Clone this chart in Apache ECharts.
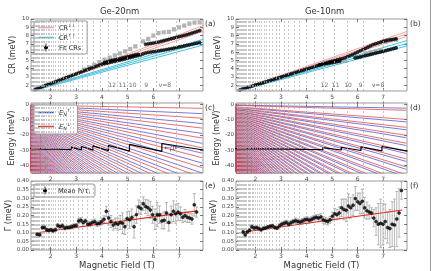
<!DOCTYPE html>
<html>
<head>
<meta charset="utf-8">
<script src="https://cdn.jsdelivr.net/npm/echarts@6/dist/echarts.min.js"></script>
<style>html,body{margin:0;padding:0;background:#fff}#main{width:431px;height:271px}</style>
</head>
<body>
<div id="main"></div>
<script>
var FONT = 'DejaVu Sans'
var X_MIN = 1.24, X_MAX = 7.93
var bTicks = [2, 3, 4, 5, 6, 7]
var crTicks = [2, 3, 4, 5, 6, 7, 8, 9, 10]
var energyTicks = [0, -10, -20, -30, -40]
var gammaTicks = [0, 0.05, 0.1, 0.15, 0.2, 0.25, 0.3, 0.35, 0.4]

// filling factor positions (T), dashed verticals
var nuB20 = [6.88, 6.11, 5.50, 5.00, 4.58, 4.23, 3.93, 3.67, 3.44, 3.24, 3.06, 2.89, 2.75, 2.62, 2.50, 2.39, 2.29, 2.20, 2.12, 2.04, 1.96, 1.90, 1.83, 1.77, 1.72, 1.67, 1.62, 1.57, 1.53, 1.49, 1.45, 1.41, 1.38, 1.34, 1.31, 1.28, 1.25]
var nuB10 = [7.00, 6.22, 5.60, 5.09, 4.67, 4.31, 4.00, 3.73, 3.50, 3.29, 3.11, 2.95, 2.80, 2.67, 2.55, 2.43, 2.33, 2.24, 2.15, 2.07, 2.00, 1.93, 1.87, 1.81, 1.75, 1.70, 1.65, 1.60, 1.56, 1.51, 1.47, 1.44, 1.40, 1.37, 1.33, 1.30, 1.27]
var nuNames = ['12', '11', '10', '9', 'ν=8']
var nuTextB20 = [4.40, 4.80, 5.20, 5.72, 6.45]
var nuTextB10 = [4.70, 5.14, 5.62, 6.12, 6.80]

// (a) Ge-20nm cyclotron resonance
var crDownStart20 = [1.42, 1.39, 1.36], crDownEnd20 = [9.2, 8.85, 8.5]
var crUpStart20 = [1.38, 1.35, 1.32], crUpEnd20 = [7.55, 7.2, 6.85]
var fitLow20 = [[1.40,1.50],[1.50,1.62],[1.60,1.73],[1.70,1.85],[1.80,1.97],[1.90,2.09],[2.00,2.20],[2.10,2.32],[2.20,2.44],[2.30,2.56],[2.40,2.68],[2.50,2.80],[2.60,2.91],[2.70,3.03],[2.80,3.15],[2.90,3.27],[3.00,3.38],[3.10,3.50],[3.20,3.62],[3.30,3.74],[3.40,3.85],[3.50,3.97],[3.60,4.09],[3.70,4.20],[3.80,4.32],[3.90,4.43],[4.00,4.55],[4.10,4.62],[4.20,4.68],[4.30,4.75],[4.40,4.82],[4.50,4.88],[4.60,4.95],[4.70,5.02],[4.80,5.10],[4.90,5.18],[5.00,5.26],[5.10,5.34],[5.20,5.42],[5.30,5.50],[5.40,5.58],[5.50,5.66],[5.60,5.78],[5.70,5.88],[5.80,5.95],[5.90,6.00],[6.00,6.05],[6.10,6.10],[6.20,6.15],[6.30,6.20],[6.40,6.25],[6.50,6.30],[6.60,6.36],[6.70,6.42],[6.80,6.48],[6.90,6.55],[7.00,6.62],[7.10,6.68],[7.20,6.75],[7.30,6.82],[7.40,6.88],[7.50,6.95],[7.60,7.02],[7.70,7.08],[7.80,7.15]]
var fitHigh20 = [[4.10,4.75],[4.20,4.85],[4.30,4.95],[4.40,5.02],[4.50,5.08],[4.60,5.14],[4.70,5.22],[4.80,5.30],[4.90,5.38],[5.00,5.45],[5.10,5.52],[5.20,5.60],[5.30,5.66],[5.40,5.72],[5.70,6.95],[5.80,7.00],[5.90,7.05],[6.00,7.10],[6.10,7.16],[6.20,7.22],[6.30,7.30],[6.40,7.38],[6.50,7.46],[6.60,7.54],[6.70,7.62],[6.80,7.70],[6.90,7.78],[7.00,7.86],[7.10,7.94],[7.20,8.02],[7.30,8.10],[7.40,8.20],[7.50,8.30],[7.60,8.40],[7.70,8.50],[7.80,8.60]]
var hollow20 = [[3.3,3.9],[3.5,4.15],[3.7,4.45],[3.9,4.8],[4.1,5.1],[4.3,5.35],[4.5,5.6],[4.7,5.85],[4.9,6.1],[5.1,6.35],[5.3,6.7],[5.6,7.3],[5.8,7.6],[6.0,8.0],[6.2,8.3],[6.4,8.4],[6.6,8.45],[6.8,8.75],[7.0,9.0],[7.2,9.2],[7.4,9.45],[7.6,9.55],[7.8,9.6]]

// (b) Ge-10nm cyclotron resonance
var crDownStart10 = [1.36, 1.33, 1.30], crDownEnd10 = [8.5, 8.2, 7.9]
var crUpStart10 = [1.34, 1.31, 1.28], crUpEnd10 = [7.4, 7.05, 6.75]
var fitMain10 = [[1.40,1.45],[1.50,1.55],[1.60,1.64],[1.70,1.74],[1.80,1.83],[1.90,1.93],[2.00,2.03],[2.10,2.12],[2.20,2.22],[2.30,2.31],[2.40,2.41],[2.50,2.51],[2.60,2.60],[2.70,2.70],[2.80,2.79],[2.90,2.89],[3.00,2.99],[3.10,3.08],[3.20,3.18],[3.30,3.27],[3.40,3.37],[3.50,3.47],[3.60,3.56],[3.70,3.66],[3.80,3.75],[3.90,3.85],[4.00,3.95],[4.10,4.04],[4.20,4.14],[4.30,4.23],[4.40,4.33],[4.50,4.43],[4.60,4.52],[4.70,4.62],[4.80,4.71],[4.90,4.81],[5.00,4.90],[5.10,4.98],[5.20,5.06],[5.30,5.14],[5.40,5.22],[5.50,5.32],[5.60,5.45],[5.70,5.58],[5.80,5.70],[5.90,5.85],[6.00,6.00],[6.10,6.15],[6.20,6.30],[6.30,6.45],[6.40,6.60],[6.50,6.75],[6.60,6.90],[6.70,7.00],[6.80,7.10],[6.90,7.20],[7.00,7.30],[7.10,7.38],[7.20,7.45],[7.30,7.50],[7.40,7.55],[7.50,7.60]]
var fitLow10 = [[4.50,4.45],[4.60,4.50],[4.70,4.56],[4.80,4.62],[4.90,4.68],[5.00,4.74],[5.10,4.80],[5.20,4.86],[5.30,4.92],[5.90,5.30],[6.00,5.36],[6.10,5.42],[6.20,5.50],[6.30,5.58],[6.40,5.65],[6.50,5.72],[6.60,5.80],[6.70,5.88],[6.80,5.95],[6.90,6.02],[7.00,6.10],[7.10,6.18],[7.20,6.26],[7.30,6.34],[7.40,6.42],[7.50,6.50]]
var hollow10 = [[4.7,4.72],[4.9,4.78],[5.1,4.84],[5.3,4.88],[5.5,4.95],[6.3,5.85],[6.5,5.98],[6.7,6.1],[6.9,6.22],[7.1,7.25],[7.3,7.4],[7.5,7.5]]

// (c),(d) Landau level energies at B = 7.9 T (fan from origin)
var FAN_B = 7.9
var eDown20 = [-2.5,-9,-15.5,-22,-28.5,-35,-41.5,-48,-54.5,-61,-67.5,-74,-80.5,-87,-93.5,-100,-106.5,-113,-119.5,-126,-132.5,-139,-145.5,-152,-158.5,-165,-171.5,-178,-184.5,-191,-197.5,-204,-210.5,-217,-223.5,-230,-236.5,-243,-249.5,-256,-262.5,-269,-275.5,-282]
var eUp20 = [-6,-12.5,-19,-25.5,-32,-38.5,-45,-51.5,-58,-64.5,-71,-77.5,-84,-90.5,-97,-103.5,-110,-116.5,-123,-129.5,-136,-142.5,-149,-155.5,-162,-168.5,-175,-181.5,-188,-194.5,-201,-207.5,-214,-220.5,-227,-233.5,-240,-246.5,-253,-259.5,-266,-272.5,-279]
var eDown10 = [-3.8,-9.8,-15,-20.2,-25.4,-30.6,-35.8,-41,-46.2,-51.4,-56.6,-61.8,-67,-72.2,-77.4,-82.6,-87.8,-93,-98.2,-103.4,-108.6,-113.8,-119,-124.2,-129.4,-134.6,-139.8,-145,-150.2,-155.4,-160.6,-165.8,-171,-176.2,-181.4,-186.6,-191.8,-197,-202.2,-207.4,-212.6,-217.8,-223,-228.2,-233.4,-238.6,-243.8,-249,-254.2,-259.4,-264.6,-269.8,-275,-280.2]
var eUp10 = [-2.4,-11.4,-16.6,-21.8,-27,-32.2,-37.4,-42.6,-47.8,-53,-58.2,-63.4,-68.6,-73.8,-79,-84.2,-89.4,-94.6,-99.8,-105,-110.2,-115.4,-120.6,-125.8,-131,-136.2,-141.4,-146.6,-151.8,-157,-162.2,-167.4,-172.6,-177.8,-183,-188.2,-193.4,-198.6,-203.8,-209,-214.2,-219.4,-224.6,-229.8,-235,-240.2,-245.4,-250.6,-255.8,-261,-266.2,-271.4,-276.6,-281.8]
var mu20 = [[1.2,-28.8],[1.8,-29.3],[1.8,-28.6],[2.3,-29.4],[2.3,-28.4],[2.8,-29.6],[2.8,-28.0],[3.2,-29.8],[3.2,-27.6],[3.65,-30.0],[3.65,-27.2],[4.25,-30.3],[4.25,-26.8],[5.07,-30.6],[5.07,-26.2],[6.33,-30.8],[6.33,-25.6],[7.95,-29.9]]
var mu10 = [[1.2,-29.0],[3.4,-29.3],[3.4,-28.8],[4.0,-29.5],[4.0,-28.5],[4.64,-29.7],[4.64,-28.3],[5.36,-29.9],[5.36,-28.1],[6.13,-30.2],[6.13,-27.8],[6.95,-30.5],[6.95,-27.6],[7.95,-30.6]]

// (e),(f) mean scattering rate
var gB20 = [1.48,1.58,1.68,1.76,1.85,1.93,2.02,2.10,2.19,2.28,2.37,2.46,2.55,2.64,2.73,2.82,2.91,3.00,3.09,3.18,3.27,3.36,3.45,3.54,3.63,3.72,3.81,3.90,3.99,4.08,4.17,4.26,4.35,4.44,4.53,4.62,4.71,4.80,4.89,4.98,5.07,5.16,5.25,5.34,5.43,5.52,5.61,5.70,5.79,5.88,5.97,6.06,6.15,6.24,6.33,6.42,6.51,6.60,6.69,6.78,6.87,6.96,7.05,7.14,7.23,7.32,7.41,7.50,7.59,7.68]
var gamma20 = [0.091,0.088,0.130,0.131,0.118,0.114,0.117,0.112,0.118,0.142,0.136,0.140,0.128,0.130,0.131,0.135,0.140,0.142,0.168,0.173,0.160,0.168,0.150,0.152,0.160,0.164,0.152,0.155,0.165,0.178,0.224,0.186,0.165,0.145,0.155,0.150,0.160,0.155,0.135,0.182,0.175,0.188,0.135,0.205,0.250,0.240,0.268,0.252,0.245,0.232,0.205,0.178,0.205,0.205,0.168,0.172,0.215,0.160,0.205,0.225,0.210,0.220,0.210,0.190,0.200,0.190,0.185,0.180,0.262,0.220]
var gErr20 = [0.008,0.008,0.01,0.01,0.008,0.01,0.01,0.01,0.01,0.012,0.01,0.012,0.012,0.01,0.01,0.012,0.012,0.012,0.015,0.015,0.015,0.012,0.015,0.015,0.015,0.015,0.015,0.015,0.02,0.02,0.03,0.04,0.035,0.03,0.03,0.035,0.04,0.06,0.045,0.04,0.05,0.05,0.065,0.05,0.04,0.035,0.04,0.04,0.045,0.05,0.05,0.06,0.07,0.05,0.045,0.05,0.06,0.05,0.05,0.06,0.055,0.05,0.04,0.03,0.035,0.03,0.025,0.03,0.065,0.03]
var gFit20 = [[1.48,0.100],[7.70,0.227]]
var gB10 = [1.52,1.60,1.68,1.77,1.86,1.95,2.04,2.13,2.22,2.31,2.40,2.49,2.58,2.67,2.76,2.85,2.94,3.03,3.12,3.21,3.30,3.39,3.48,3.57,3.66,3.75,3.84,3.93,4.02,4.11,4.20,4.29,4.38,4.47,4.56,4.65,4.74,4.83,4.92,5.01,5.10,5.19,5.28,5.37,5.46,5.55,5.64,5.73,5.82,5.91,6.00,6.09,6.18,6.27,6.36,6.45,6.54,6.63,6.72,6.81,6.90,6.99,7.08,7.17,7.26,7.35,7.44,7.53,7.62,7.71]
var gamma10 = [0.105,0.088,0.105,0.115,0.135,0.128,0.130,0.125,0.118,0.125,0.128,0.133,0.138,0.140,0.130,0.127,0.140,0.150,0.155,0.160,0.150,0.158,0.165,0.170,0.165,0.162,0.168,0.175,0.178,0.172,0.178,0.185,0.190,0.185,0.192,0.175,0.170,0.165,0.175,0.195,0.210,0.205,0.215,0.245,0.235,0.230,0.255,0.245,0.260,0.298,0.280,0.270,0.282,0.245,0.228,0.220,0.215,0.185,0.165,0.150,0.155,0.150,0.165,0.130,0.125,0.150,0.145,0.180,0.215,0.345]
var gErr10 = [0.012,0.01,0.01,0.01,0.01,0.01,0.01,0.01,0.01,0.01,0.01,0.01,0.01,0.01,0.01,0.01,0.012,0.012,0.012,0.012,0.012,0.012,0.012,0.015,0.015,0.015,0.015,0.015,0.015,0.015,0.015,0.015,0.015,0.02,0.02,0.02,0.02,0.02,0.02,0.025,0.03,0.03,0.035,0.05,0.06,0.065,0.07,0.06,0.06,0.07,0.05,0.06,0.07,0.06,0.05,0.04,0.03,0.05,0.08,0.12,0.14,0.12,0.1,0.09,0.11,0.13,0.15,0.16,0.14,0.05]
var gFit10 = [[1.50,0.103],[7.75,0.232]]

var grids = [
  { left: 31, top: 19, width: 172, height: 72 },
  { left: 236, top: 19, width: 171, height: 72 },
  { left: 31, top: 103, width: 172, height: 70 },
  { left: 236, top: 103, width: 171, height: 70 },
  { left: 31, top: 181, width: 172, height: 73 },
  { left: 236, top: 181, width: 171, height: 73 }
]

// legend icons: tiny corner dots keep the box so the stroke stays thin
var ICON_BOX = 'M0,0 L0.01,0 L0.01,0.01 Z M15.99,8.99 L16,8.99 L16,9 Z '
var LINE_ICON = 'path://' + ICON_BOX + 'M0,3.8 L16,3.8 L16,5.3 L0,5.3 Z'
var ERR_ICON = 'path://' + ICON_BOX + 'M7.6,0.5 L8.4,0.5 L8.4,8.5 L7.6,8.5 Z M10,4.5 A2,2 0 1 1 10,4.49 Z'
var PINK = '#f4a3a3', CYAN = '#3ec3e3', BLUE = '#4b4bd6', RED = '#e0403c'

var tickStyle = { color: '#555', width: 0.8 }
var xAxes = [], yAxes = [], series = []

function addAxes(gi, yMin, yMax, yTicks, yName, yFmt, xName) {
  xAxes.push({
    gridIndex: gi, type: 'value', min: X_MIN, max: X_MAX, position: 'bottom',
    axisLine: { show: false }, splitLine: { show: false },
    axisTick: { inside: true, length: 3, lineStyle: tickStyle, customValues: bTicks },
    axisLabel: { fontSize: 6, color: '#444', margin: 3, fontFamily: FONT, customValues: bTicks },
    name: xName || '', nameLocation: 'middle', nameGap: 11,
    nameTextStyle: { fontSize: 8.5, color: '#333', fontFamily: FONT }
  })
  xAxes.push({
    gridIndex: gi, type: 'value', min: X_MIN, max: X_MAX, position: 'top',
    axisLine: { show: false }, splitLine: { show: false }, axisLabel: { show: false },
    axisTick: { inside: true, length: 3, lineStyle: tickStyle, customValues: bTicks }
  })
  yAxes.push({
    gridIndex: gi, type: 'value', min: yMin, max: yMax, position: 'left',
    axisLine: { show: false }, splitLine: { show: false },
    axisTick: { inside: true, length: 3, lineStyle: tickStyle, customValues: yTicks },
    axisLabel: { fontSize: 5.5, color: '#444', margin: 2, fontFamily: FONT, customValues: yTicks, formatter: yFmt },
    name: yName, nameLocation: 'middle', nameGap: 14,
    nameTextStyle: { fontSize: 8, color: '#333', fontFamily: FONT }
  })
  yAxes.push({
    gridIndex: gi, type: 'value', min: yMin, max: yMax, position: 'right',
    axisLine: { show: false }, splitLine: { show: false }, axisLabel: { show: false },
    axisTick: { inside: true, length: 3, lineStyle: tickStyle, customValues: yTicks }
  })
}
function intFmt(v) { return String(Math.round(v)) }
function g2Fmt(v) { return v.toFixed(2) }

addAxes(0, 1.3, 10, crTicks, 'CR (meV)', intFmt)
addAxes(1, 1.3, 10, crTicks, 'CR (meV)', intFmt)
addAxes(2, -45, 1, energyTicks, 'Energy (meV)', intFmt)
addAxes(3, -45, 1, energyTicks, 'Energy (meV)', intFmt)
addAxes(4, 0, 0.4, gammaTicks, 'Γ (meV)', g2Fmt, 'Magnetic Field (T)')
addAxes(5, 0, 0.4, gammaTicks, 'Γ (meV)', g2Fmt, 'Magnetic Field (T)')

function ax(gi) { return { xAxisIndex: 2 * gi, yAxisIndex: 2 * gi } }

function nuLines(gi, arr) {
  series.push(Object.assign({
    type: 'line', data: [], silent: true, z: 1,
    markLine: {
      symbol: 'none', silent: true, animation: false, label: { show: false },
      lineStyle: { color: '#b0b0b0', type: [2, 2], width: 0.7 },
      data: arr.map(function (b) { return { xAxis: b } })
    }
  }, ax(gi)))
}

function segs(x0, x1, starts, ends) {
  var d = []
  for (var i = 0; i < ends.length; i++) {
    d.push([x0, starts[i]], [x1, ends[i]], [null, null])
  }
  return d
}
function fan(levels) {
  var d = []
  levels.forEach(function (e) { d.push([0, 0], [FAN_B, e], [null, null]) })
  return d
}
function lineSeries(gi, name, data, color, width, z) {
  series.push(Object.assign({
    type: 'line', name: name, data: data, symbol: 'none', connectNulls: false,
    lineStyle: { color: color, width: width }, itemStyle: { color: color }, z: z, clip: true
  }, ax(gi)))
}
function scatterSeries(gi, name, data, symbol, size, color, z, bw) {
  series.push(Object.assign({
    type: 'scatter', name: name, data: data, symbol: symbol, symbolSize: size,
    itemStyle: { color: color, borderColor: color, borderWidth: bw == null ? 0.6 : bw }, z: z
  }, ax(gi)))
}
function nuText(gi, xs) {
  series.push(Object.assign({
    type: 'scatter', symbolSize: 0, silent: true, z: 5,
    data: xs.map(function (b, i) { return { value: [b, 2.0], name: nuNames[i] } }),
    label: { show: true, formatter: '{b}', fontSize: 6, color: '#444', fontFamily: FONT, position: 'inside' }
  }, ax(gi)))
}
function errBar(params, api) {
  var x = api.value(0), y = api.value(1), e = api.value(2)
  var top = api.coord([x, y + e]), bot = api.coord([x, y - e])
  var st = { stroke: '#999', lineWidth: 0.7 }
  return {
    type: 'group', children: [
      { type: 'line', shape: { x1: top[0], y1: top[1], x2: bot[0], y2: bot[1] }, style: st },
      { type: 'line', shape: { x1: top[0] - 1.5, y1: top[1], x2: top[0] + 1.5, y2: top[1] }, style: st },
      { type: 'line', shape: { x1: bot[0] - 1.5, y1: bot[1], x2: bot[0] + 1.5, y2: bot[1] }, style: st }
    ]
  }
}
function gammaPanel(gi, bs, vals, errs, fit) {
  var d = bs.map(function (b, i) { return [b, vals[i], errs[i]] })
  series.push(Object.assign({ type: 'custom', renderItem: errBar, data: d, encode: { x: 0, y: 1 }, clip: true, z: 3, silent: true }, ax(gi)))
  lineSeries(gi, 'fit', fit, '#e3261e', 1.2, 4)
  scatterSeries(gi, 'Mean ħ/τi', d.map(function (p) { return [p[0], p[1]] }), 'circle', 3, '#000', 5)
}

// (a)
nuLines(0, nuB20)
lineSeries(0, 'CR↓↓', segs(1.3, 7.93, crDownStart20, crDownEnd20), PINK, 1, 2)
lineSeries(0, 'CR↑↑', segs(1.3, 7.93, crUpStart20, crUpEnd20), CYAN, 1, 2)
scatterSeries(0, 'hollow', hollow20, 'emptyRect', 2.2, '#a0a0a0', 3, 0.5)
scatterSeries(0, 'Fit CRs', fitLow20, 'circle', 3.2, '#000', 4)
scatterSeries(0, 'Fit CRs', fitHigh20, 'circle', 3.2, '#000', 4)
nuText(0, nuTextB20)
// (b)
nuLines(1, nuB10)
lineSeries(1, 'CR↓↓', segs(1.3, 7.93, crDownStart10, crDownEnd10), PINK, 1, 2)
lineSeries(1, 'CR↑↑', segs(1.3, 7.93, crUpStart10, crUpEnd10), CYAN, 1, 2)
scatterSeries(1, 'hollow', hollow10, 'emptyRect', 2.2, '#a0a0a0', 3, 0.5)
scatterSeries(1, 'Fit CRs', fitMain10, 'circle', 3.2, '#000', 4)
scatterSeries(1, 'Fit CRs', fitLow10, 'circle', 3.2, '#000', 4)
nuText(1, nuTextB10)
// (c)
nuLines(2, nuB20)
lineSeries(2, 'E↑', fan(eUp20), BLUE, 0.75, 2)
lineSeries(2, 'E↓', fan(eDown20), RED, 0.75, 2)
lineSeries(2, 'mu', mu20, '#000', 1.2, 4)
series.push(Object.assign({
  type: 'scatter', symbolSize: 0, silent: true, z: 6,
  data: [{ value: [6.42, -28.4] }],
  label: {
    show: true, position: 'right', distance: 0, formatter: '{a|←}{m|μ}{s|F}',
    rich: { a: { fontSize: 7, color: '#222' }, m: { fontSize: 7, color: '#222', fontStyle: 'italic' }, s: { fontSize: 5, color: '#222', fontStyle: 'italic', verticalAlign: 'bottom' } }
  }
}, ax(2)))
// (d)
nuLines(3, nuB10)
lineSeries(3, 'E↑', fan(eUp10), BLUE, 0.75, 2)
lineSeries(3, 'E↓', fan(eDown10), RED, 0.75, 2)
lineSeries(3, 'mu', mu10, '#000', 1.2, 4)
// (e),(f)
nuLines(4, nuB20)
gammaPanel(4, gB20, gamma20, gErr20, gFit20)
nuLines(5, nuB10)
gammaPanel(5, gB10, gamma10, gErr10, gFit10)

function legItem(name, icon, color) {
  return { name: name, icon: icon, itemStyle: { color: color, borderWidth: 0, opacity: 1 } }
}
var legendBase = {
  orient: 'vertical', backgroundColor: '#fff', borderColor: '#9a9a9a', borderWidth: 1,
  borderRadius: 2, itemGap: 3, itemWidth: 16, itemHeight: 9, selectedMode: false,
  itemStyle: { borderWidth: 0 }, lineStyle: { width: 0 },
  textStyle: { fontFamily: FONT, fontSize: 6.5, color: '#222' }
}
var supRich = {
  t: { fontSize: 6.5, color: '#222', verticalAlign: 'bottom', lineHeight: 9 },
  e: { fontSize: 7, color: '#222', fontStyle: 'italic', verticalAlign: 'bottom', lineHeight: 9 },
  s: { fontSize: 4.5, color: '#222', verticalAlign: 'top', lineHeight: 9 },
  n: { fontSize: 4.5, color: '#222', fontStyle: 'italic', verticalAlign: 'bottom', lineHeight: 9 }
}
var legends = [
  Object.assign({}, legendBase, {
    left: 34, top: 21, padding: [2, 6, 2, 4], itemGap: 1,
    data: [legItem('CR↓↓', LINE_ICON, PINK), legItem('CR↑↑', LINE_ICON, CYAN), legItem('Fit CRs', ERR_ICON, '#000')],
    formatter: function (n) { return n === 'Fit CRs' ? '{t|' + n + '}' : '{t|CR}{s|' + n.slice(2) + '}' },
    textStyle: Object.assign({}, legendBase.textStyle, { rich: supRich })
  }),
  Object.assign({}, legendBase, {
    left: 34, top: 105, padding: [3, 7, 3, 4], itemGap: 5,
    data: [legItem('E↑', LINE_ICON, BLUE), legItem('E↓', LINE_ICON, RED)],
    formatter: function (n) { return '{e|E}{n|N}{s|' + n.slice(1) + '}' },
    textStyle: Object.assign({}, legendBase.textStyle, { rich: supRich })
  }),
  Object.assign({}, legendBase, {
    left: 34, top: 184, padding: [2, 5, 2, 3],
    data: [legItem('Mean ħ/τi', ERR_ICON, '#000')],
    formatter: function () { return '{t|Mean ħ/}{e|τ}{n|i}' },
    textStyle: Object.assign({}, legendBase.textStyle, { rich: supRich })
  })
]

function txt(x, y, s, size, align) {
  return { type: 'text', left: x, top: y, style: { text: s, fontSize: size, fontFamily: FONT, fill: '#333', textAlign: align || 'left' } }
}

var chart = echarts.init(document.getElementById('main'), null, { renderer: 'canvas' })
chart.setOption({
  animation: false,
  textStyle: { fontFamily: FONT },
  grid: grids.map(function (g) { return Object.assign({ show: true, borderColor: '#9a9a9a', borderWidth: 1, backgroundColor: '#fff' }, g) }),
  xAxis: xAxes,
  yAxis: yAxes,
  legend: legends,
  series: series,
  graphic: [
    txt(100, 7, 'Ge-20nm', 8.5),
    txt(305, 7, 'Ge-10nm', 8.5),
    txt(205, 20, '(a)', 7.5), txt(410, 20, '(b)', 7.5),
    txt(205, 104, '(c)', 7.5), txt(410, 104, '(d)', 7.5),
    txt(205, 182, '(e)', 7.5), txt(410, 182, '(f)', 7.5),
    { type: 'line', shape: { x1: 430.5, y1: 0, x2: 430.5, y2: 271 }, style: { stroke: '#999', lineWidth: 1 } }
  ]
})
</script>
</body>
</html>
